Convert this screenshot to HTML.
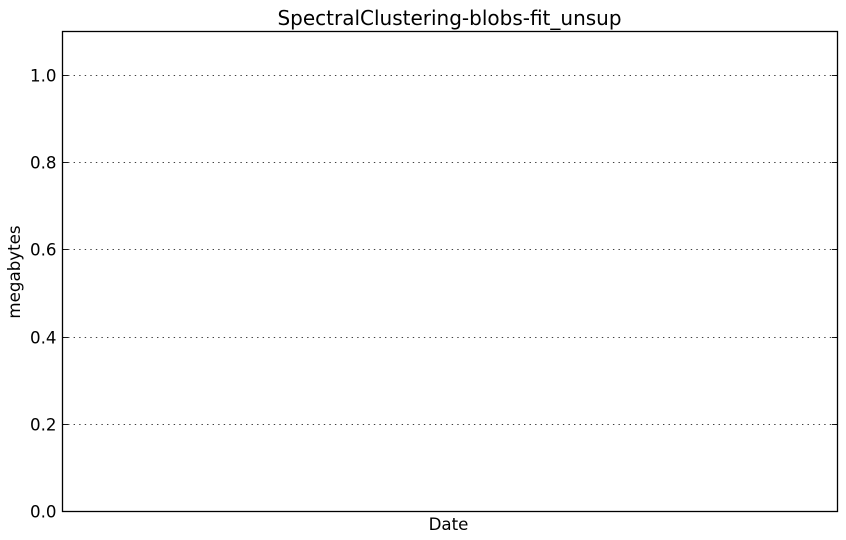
<!DOCTYPE html>
<html>
<head>
<meta charset="utf-8">
<style>
html,body{margin:0;padding:0;background:#fff;width:846px;height:540px;overflow:hidden}
svg{display:block}
text{font-family:"DejaVu Sans",sans-serif;fill:#000}
</style>
</head>
<body>
<svg id="chart" xmlns="http://www.w3.org/2000/svg" width="846" height="540" viewBox="0 0 846 540">
<rect x="0" y="0" width="846" height="540" fill="#fff"/>
<g id="grid"></g>
<g id="marks"></g>
<g id="ticks"></g>
<rect x="62.5" y="31.5" width="775" height="480" fill="none" stroke="#000" stroke-width="1.3"/>
<text x="449.5" y="25" font-size="20" text-anchor="middle">SpectralClustering-blobs-fit_unsup</text>
<text x="448.5" y="530" font-size="16.67" text-anchor="middle">Date</text>
<text transform="translate(20 272) rotate(-90)" font-size="16.67" text-anchor="middle">megabytes</text>
</svg>
<script>
const yTickValues = [0.0, 0.2, 0.4, 0.6, 0.8, 1.0];
const yTickLabels = ["0.0", "0.2", "0.4", "0.6", "0.8", "1.0"];
const dates = [];
const megabytes = [];

const yDomain = [0, 1.1];
const plot = { left: 62.5, right: 837.5, top: 31.5, bottom: 511.5 };
const NS = "http://www.w3.org/2000/svg";

function yScale(v) {
  return plot.bottom - (v - yDomain[0]) / (yDomain[1] - yDomain[0]) * (plot.bottom - plot.top);
}
function xScale(i) {
  const n = Math.max(dates.length - 1, 1);
  return plot.left + i / n * (plot.right - plot.left);
}
function make(tag, attrs) {
  const el = document.createElementNS(NS, tag);
  for (const k in attrs) el.setAttribute(k, attrs[k]);
  return el;
}

const grid = document.getElementById("grid");
const ticks = document.getElementById("ticks");
const marks = document.getElementById("marks");

yTickValues.forEach(function (v, i) {
  const y = Math.floor(yScale(v) + 0.1) + 0.5;
  if (v > yDomain[0]) {
    const line = make("line", { x1: plot.left, x2: plot.right, y1: y, y2: y, stroke: "#000", "stroke-width": 0.7, "stroke-dasharray": "1.39 4.17" });
    
    
    grid.appendChild(line);
  }
  const tl = make("line", { x1: plot.left, x2: plot.left + 5.56, y1: y, y2: y, stroke: "#000", "stroke-width": 0.9 });
  
  
  ticks.appendChild(tl);
  const tr = make("line", { x1: plot.right - 5.56, x2: plot.right, y1: y, y2: y, stroke: "#000", "stroke-width": 0.9 });
  
  
  ticks.appendChild(tr);
  const label = make("text", { x: 56.5, y: y + 6, "font-size": 16.67, "text-anchor": "end" });
  
  
  label.textContent = yTickLabels[i];
  ticks.appendChild(label);
});

if (megabytes.length) {
  const pts = megabytes.map(function (v, i) { return xScale(i) + "," + yScale(v); }).join(" ");
  const series = make("polyline", { points: pts, fill: "none", stroke: "#00f", "stroke-width": 1 });
  
  
  marks.appendChild(series);
}
</script>
</body>
</html>
